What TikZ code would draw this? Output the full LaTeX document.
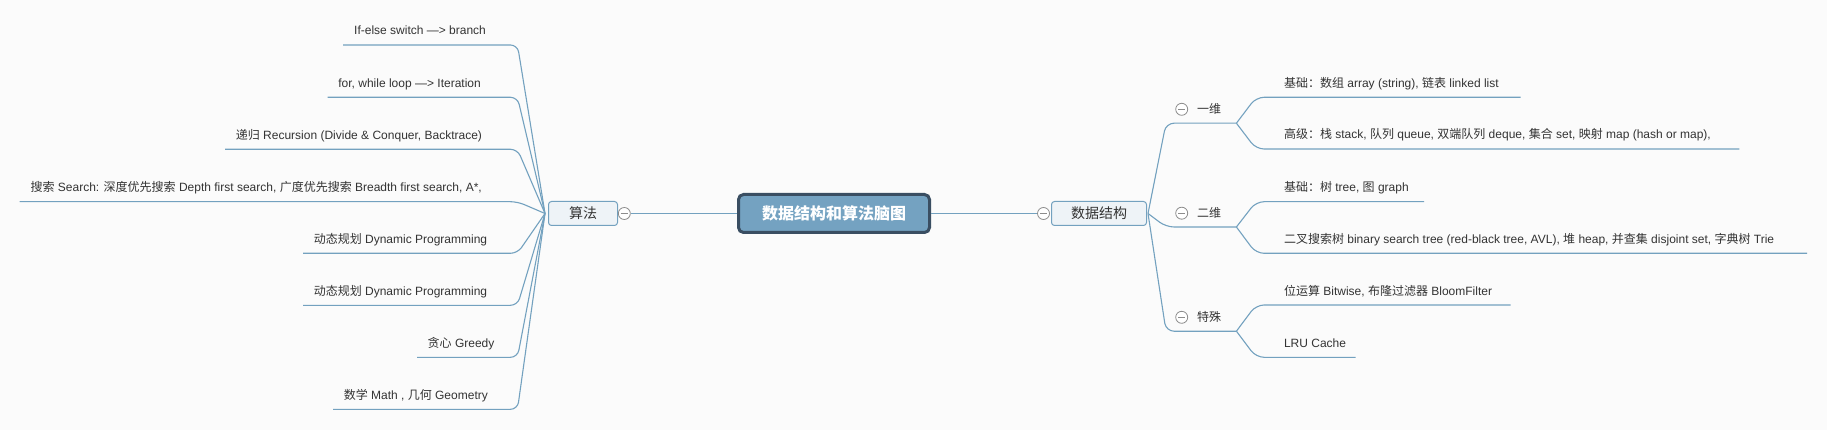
\documentclass[tikz,border=0pt]{standalone}
\usepackage{fontspec}
\setmainfont{Liberation Sans}
\newfontfamily\cjk{Noto Sans CJK SC}
\definecolor{bgc}{RGB}{251,251,251}
\definecolor{lc}{RGB}{115,161,191}
\definecolor{rootf}{RGB}{116,162,193}
\definecolor{rootb}{RGB}{58,78,98}
\definecolor{boxf}{RGB}{238,243,247}
\definecolor{tc}{RGB}{51,51,51}
\definecolor{cg}{RGB}{140,140,140}
\begin{document}
\begin{tikzpicture}[x=1pt,y=-1pt,
  ln/.style={draw=lc, line width=1.1},
  rootnode/.style={draw=rootb, line width=3, fill=rootf, rounded corners=5,
    minimum width=191, minimum height=38, inner sep=0, text=white,
    font=\cjk\bfseries\fontsize{16}{18}\selectfont},
  mainbox/.style={draw=lc, line width=1, fill=boxf, rounded corners=3,
    minimum height=24, inner sep=0, text=tc,
    font=\cjk\fontsize{14}{16}\selectfont},
  collapse/.style={circle, draw=cg, fill=white, minimum size=12, inner sep=0, line width=0.8,
    path picture={\draw[cg, line width=0.9] ([xshift=-3.6pt]path picture bounding box.center) -- ([xshift=3.6pt]path picture bounding box.center);}},
  txt/.style={anchor=base west, inner sep=0, text=tc, font=\fontsize{12}{14}\selectfont},
  lvl/.style={anchor=base west, inner sep=0, text=tc, font=\cjk\fontsize{12}{14}\selectfont}
]
\fill[bgc] (0,0) rectangle (1827,430);
\useasboundingbox (0,0) rectangle (1827,430);

% central and main nodes
\node[rootnode] (root) at (834,213.5) {数据结构和算法脑图};
\node[mainbox, minimum width=69] (alg) at (583,213.5) {算法};
\node[mainbox, minimum width=95] (ds) at (1099,213.5) {数据结构};
\node[collapse] (calg) at (624.3,213.5) {};
\node[collapse] (cds) at (1043.5,213.5) {};
\draw[ln] (calg.east) -- (root.west);
\draw[ln] (root.east) -- (cds.west);

% left side
\coordinate (algp) at (545,213.5);
\node[txt] (a1) at (354,35) {If-else switch —> branch};
\node[txt] (a2) at (338.2,87.3) {for, while loop —> Iteration};
\node[txt] (a3) at (235.7,139.3) {{\cjk 递归} Recursion (Divide \& Conquer, Backtrace)};
\node[txt] (a4) at (30.4,191.7) {{\cjk 搜索} Search: {\cjk 深度优先搜索} Depth first search, {\cjk 广度优先搜索} Breadth first search, A*,};
\node[txt] (a5) at (313.6,243.3) {{\cjk 动态规划} Dynamic Programming};
\node[txt] (a6) at (313.6,295.3) {{\cjk 动态规划} Dynamic Programming};
\node[txt] (a7) at (427.5,347.3) {{\cjk 贪心} Greedy};
\node[txt] (a8) at (343.6,399.3) {{\cjk 数学} Math , {\cjk 几何} Geometry};

\coordinate (u1a) at (343,45);    \coordinate (u1b) at (517.5,45);
\coordinate (u2a) at (327.5,97.3);  \coordinate (u2b) at (517.5,97.3);
\coordinate (u3a) at (225,149.3);   \coordinate (u3b) at (517.5,149.3);
\coordinate (u4a) at (19.6,201.7);  \coordinate (u4b) at (517.5,201.7);
\coordinate (u5a) at (303,253.3);   \coordinate (u5b) at (517.5,253.3);
\coordinate (u6a) at (303,305.3);   \coordinate (u6b) at (517.5,305.3);
\coordinate (u7a) at (417,357.3);   \coordinate (u7b) at (517.5,357.3);
\coordinate (u8a) at (333,409.3);   \coordinate (u8b) at (517.5,409.3);
\foreach \i in {1,...,8}{
  \draw[ln, rounded corners=7] (u\i a) -- (u\i b) -- (algp);
}

% right side level 1
\coordinate (dsp) at (1148,213.5);
\coordinate (k1) at (1166,123.2); \coordinate (s1) at (1236.4,123.2);
\coordinate (k2) at (1166,227);   \coordinate (s2) at (1236.4,227);
\coordinate (k3) at (1166,331.2); \coordinate (s3) at (1236.4,331.2);
\draw[ln, rounded corners=8] (dsp) -- (k1) -- (s1);
\draw[ln, rounded corners=8] (dsp) -- (k2) -- (s2);
\draw[ln, rounded corners=8] (dsp) -- (k3) -- (s3);
\node[collapse] (c1) at (1181.7,109.3) {};
\node[collapse] (c2) at (1181.7,213.2) {};
\node[collapse] (c3) at (1181.7,317.3) {};
\node[lvl] (n1) at (1197,113.5) {一维};
\node[lvl] (n2) at (1197,217.3) {二维};
\node[lvl] (n3) at (1197,321.4) {特殊};

% right side leaves
\node[txt] (b1) at (1283.8,87.3) {{\cjk 基础：数组} array (string), {\cjk 链表} linked list};
\node[txt] (b2) at (1283.8,139) {{\cjk 高级：栈} stack, {\cjk 队列} queue, {\cjk 双端队列} deque, {\cjk 集合} set, {\cjk 映射} map (hash or map),};
\node[txt] (b3) at (1283.8,191.7) {{\cjk 基础：树} tree, {\cjk 图} graph};
\node[txt] (b4) at (1283.8,243.3) {{\cjk 二叉搜索树} binary search tree (red-black tree, AVL), {\cjk 堆} heap, {\cjk 并查集} disjoint set, {\cjk 字典树} Trie};
\node[txt] (b5) at (1283.8,295) {{\cjk 位运算} Bitwise, {\cjk 布隆过滤器} BloomFilter};
\node[txt] (b6) at (1283.8,347.3) {LRU Cache};

\coordinate (g1k) at (1256,97.3);  \coordinate (g1e) at (1520.5,97.3);
\coordinate (g2k) at (1256,149);   \coordinate (g2e) at (1739.4,149);
\coordinate (g3k) at (1256,201.7); \coordinate (g3e) at (1424.2,201.7);
\coordinate (g4k) at (1256,253.3); \coordinate (g4e) at (1807.2,253.3);
\coordinate (g5k) at (1256,305);   \coordinate (g5e) at (1510.5,305);
\coordinate (g6k) at (1256,357.3); \coordinate (g6e) at (1355.5,357.3);
\draw[ln, rounded corners=8] (s1) -- (g1k) -- (g1e);
\draw[ln, rounded corners=8] (s1) -- (g2k) -- (g2e);
\draw[ln, rounded corners=8] (s2) -- (g3k) -- (g3e);
\draw[ln, rounded corners=8] (s2) -- (g4k) -- (g4e);
\draw[ln, rounded corners=8] (s3) -- (g5k) -- (g5e);
\draw[ln, rounded corners=8] (s3) -- (g6k) -- (g6e);
\end{tikzpicture}
\end{document}
